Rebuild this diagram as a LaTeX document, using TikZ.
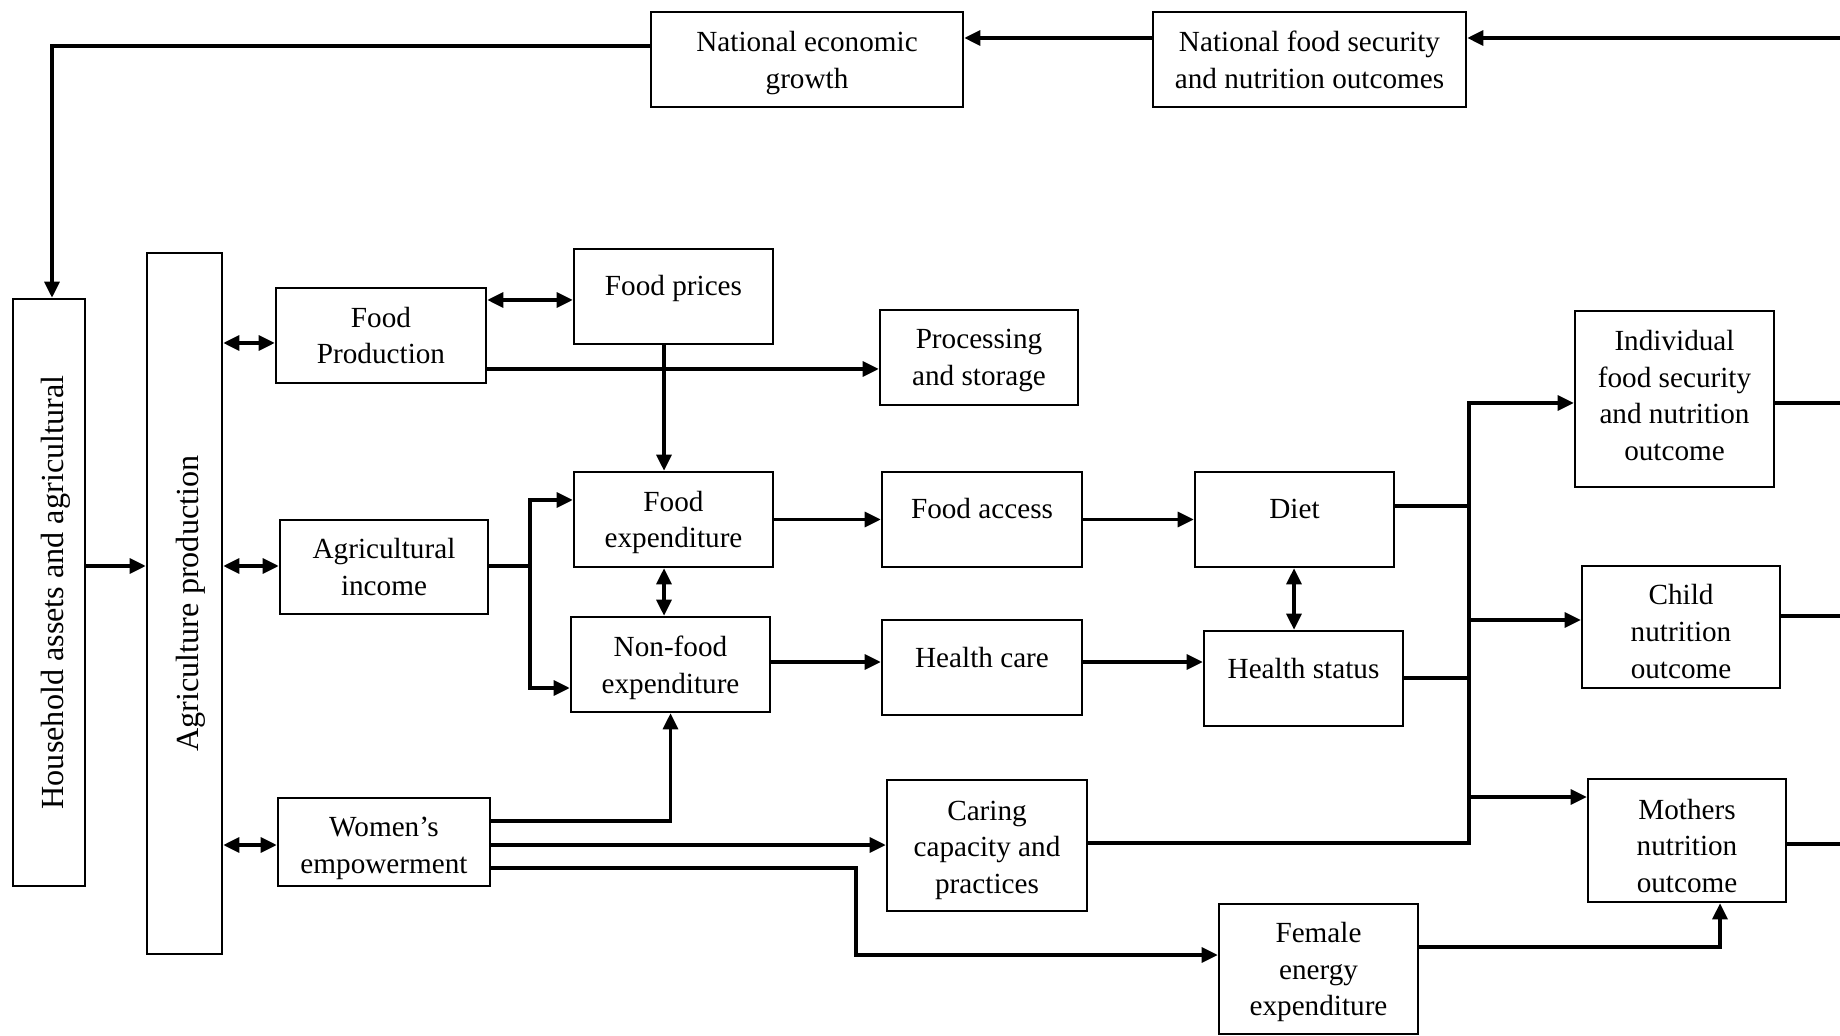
\documentclass[tikz,border=0pt]{standalone}
\usepackage{fontspec}
\setmainfont{Liberation Serif}
\usetikzlibrary{arrows.meta,calc}
\newcommand{\fs}{\fontsize{14.6pt}{18.3pt}\selectfont}
\newcommand{\fsr}{\fontsize{16.1pt}{19pt}\selectfont}
\tikzset{
 box/.style={draw,line width=1.3pt,inner sep=0pt},
 txt/.style={inner sep=0pt,align=center,font=\fs},
 rtxt/.style={inner sep=0pt,align=center,font=\fsr,rotate=90},
 conn/.style={line width=1.6pt},
 arr/.style={conn,-{Triangle[length=8pt,width=7.5pt]}},
 darr/.style={conn,{Triangle[length=8pt,width=7.5pt]}-{Triangle[length=8pt,width=7.5pt]}},
}
% name, centre, width, height, text shift, text
\newcommand{\bx}[6]{\node[box,minimum width=#3,minimum height=#4] (#1) at (#2) {};
 \node[txt] at ([yshift=#5]#1.center) {#6};}
\begin{document}
\begin{tikzpicture}[x=0.5pt,y=-0.5pt]
\useasboundingbox (0,0) rectangle (1840,1036);
% boxes
\bx{neg}{807,59.5}{156pt}{47.5pt}{-1.8pt}{National economic\\growth}
\bx{nfs}{1309.5,59.5}{156.5pt}{47.5pt}{-0.3pt}{National food security\\and nutrition outcomes}
\node[box,minimum width=36pt,minimum height=293.5pt] (hh) at (49,592.5) {};
\node[rtxt] at ([xshift=3.3pt]hh.center) {Household assets and agricultural};
\node[box,minimum width=37.5pt,minimum height=350.5pt] (ap) at (184.5,603.5) {};
\node[rtxt] at ([xshift=3pt]ap.center) {Agriculture production};
\bx{fprod}{381,335.5}{105pt}{47.5pt}{0pt}{Food\\Production}
\bx{fprice}{673.5,296.5}{99.5pt}{47.5pt}{3.8pt}{Food prices}
\bx{proc}{979,357.5}{99pt}{47.5pt}{-1.5pt}{Processing\\and storage}
\bx{fexp}{673.5,519.5}{99.5pt}{47.5pt}{-1.5pt}{Food\\expenditure}
\bx{facc}{982,519.5}{100pt}{47.5pt}{5.5pt}{Food access}
\bx{diet}{1294.5,519.5}{99.5pt}{47.5pt}{5.5pt}{Diet}
\bx{ainc}{384,567}{104pt}{47pt}{0pt}{Agricultural\\income}
\bx{nfexp}{670.5,664.5}{99.5pt}{47.5pt}{-1.75pt}{Non-food\\expenditure}
\bx{hcare}{982,667.5}{100pt}{47.5pt}{5pt}{Health care}
\bx{hstat}{1303.5,678.5}{99.5pt}{47.5pt}{5pt}{Health status}
\bx{wemp}{384,842}{106pt}{44pt}{-3.2pt}{Women’s\\empowerment}
\bx{caring}{987,845.5}{100pt}{65.5pt}{-2.3pt}{Caring\\capacity and\\practices}
\bx{fener}{1318.5,969}{99.5pt}{65pt}{-1.5pt}{Female\\energy\\expenditure}
\bx{indiv}{1674.5,399}{99.5pt}{88pt}{1.75pt}{Individual\\food security\\and nutrition\\outcome}
\bx{child}{1681,627}{99pt}{61pt}{-2.3pt}{Child\\nutrition\\outcome}
\bx{moth}{1687,840.5}{99pt}{61.5pt}{-2.6pt}{Mothers\\nutrition\\outcome}
% helper coordinates
\coordinate (rt) at (1840,38);
\coordinate (tl) at (52,46);
\coordinate (vx) at (664,0);
\coordinate (split) at (530,566);
\coordinate (bus) at (1469,0);
\coordinate (re) at (1840,0);
% connectors
\draw[arr] (rt) -- (nfs.east |- rt);
\draw[arr] (nfs.west |- rt) -- (neg.east |- rt);
\draw[arr] (neg.west |- tl) -- (tl) -- (tl |- hh.north);
\draw[arr] (hh.east |- split) -- (ap.west |- split);
\draw[darr] (ap.east |- 0,343) -- (fprod.west |- 0,343);
\draw[darr] (ap.east |- split) -- (ainc.west |- split);
\draw[darr] (ap.east |- 0,845) -- (wemp.west |- 0,845);
\draw[darr] (fprod.east |- 0,300) -- (fprice.west |- 0,300);
\draw[arr] (fprod.east |- 0,369) -- (proc.west |- 0,369);
\draw[arr] (fprice.south -| vx) -- (fexp.north -| vx);
\draw[conn] (ainc.east |- split) -- (split);
\draw[arr] (split) |- (fexp.west |- 0,500);
\draw[arr] (split) |- (nfexp.west |- 0,688);
\draw[darr] (fexp.south -| vx) -- (nfexp.north -| vx);
\draw[arr] (fexp.east) -- (facc.west);
\draw[arr] (facc.east) -- (diet.west);
\draw[arr] (nfexp.east |- 0,662) -- (hcare.west |- 0,662);
\draw[arr] (hcare.east |- 0,662) -- (hstat.west |- 0,662);
\draw[darr] (diet.south -| 1294,0) -- (hstat.north -| 1294,0);
\draw[conn] (diet.east |- 0,506) -- (bus |- 0,506);
\draw[conn] (hstat.east |- 0,678) -- (bus |- 0,678);
\draw[arr] (caring.east |- 0,843) -- (bus |- 0,843) -- (bus |- 0,403) -- (indiv.west |- 0,403);
\draw[arr] (bus |- 0,620) -- (child.west |- 0,620);
\draw[arr] (bus |- 0,797) -- (moth.west |- 0,797);
\draw[conn] (indiv.east |- 0,403) -- (re |- 0,403);
\draw[conn] (child.east |- 0,616) -- (re |- 0,616);
\draw[conn] (moth.east |- 0,844) -- (re |- 0,844);
\draw[arr] (wemp.east |- 0,821) -| (nfexp.south);
\draw[arr] (wemp.east |- 0,845) -- (caring.west |- 0,845);
\draw[arr] (wemp.east |- 0,868) -- (856,868) -- (856,955) -- (fener.west |- 0,955);
\draw[arr] (fener.east |- 0,947) -| (moth.south -| 1720,0);
\end{tikzpicture}
\end{document}
